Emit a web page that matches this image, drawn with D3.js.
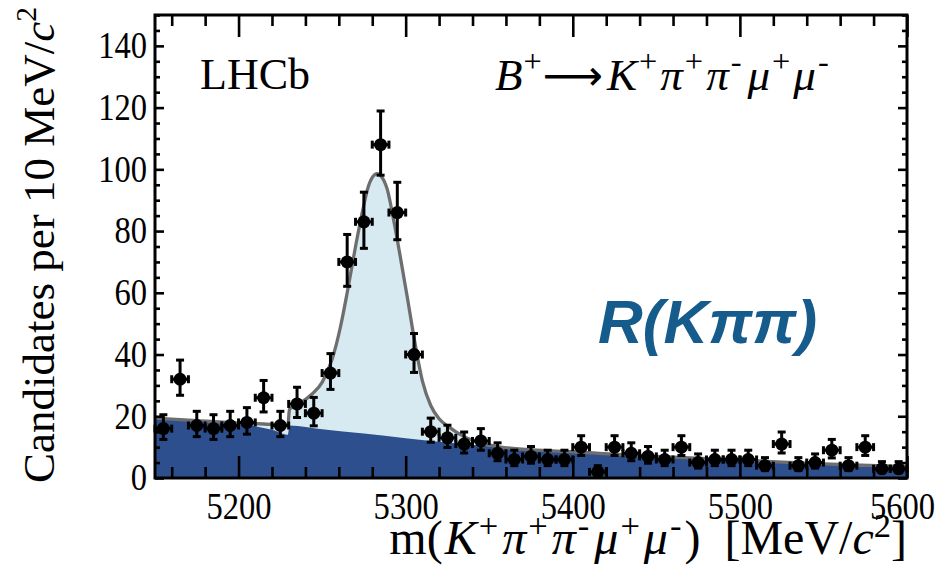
<!DOCTYPE html>
<html>
<head>
<meta charset="utf-8">
<script src="https://cdn.jsdelivr.net/npm/d3@7"></script>
<style>
  body { margin: 0; background: #fff; }
  svg { display: block; }
</style>
</head>
<body>
<svg id="chart" width="946" height="568"></svg>
<script>
// Binned candidates, 10 MeV/c^2 bins (bin centres in MeV/c^2)
const binCenters = [5155, 5165, 5175, 5185, 5195, 5205, 5215, 5225, 5235, 5245,
                    5255, 5265, 5275, 5285, 5295, 5305, 5315, 5325, 5335, 5345,
                    5355, 5365, 5375, 5385, 5395, 5405, 5415, 5425, 5435, 5445,
                    5455, 5465, 5475, 5485, 5495, 5505, 5515, 5525, 5535, 5545,
                    5555, 5565, 5575, 5585, 5595];
const counts = [16, 32, 17, 16, 17, 18, 26, 17, 24, 21,
                34, 70, 83, 108, 86, 40, 15, 13, 11, 12,
                8, 6, 7, 6, 6, 10, 2, 10, 8, 7,
                6, 10, 5, 6, 6, 6, 4, 11, 4, 5,
                9, 4, 10, 3, 3];
// Asymmetric (Poisson) uncertainties
const errLow = [3.5, 5.2, 3.6, 3.5, 3.6, 3.8, 4.6, 3.6, 4.4, 4.1,
                5.3, 7.9, 8.6, 9.9, 8.8, 5.8, 3.4, 3.1, 2.9, 3.0,
                2.4, 2.0, 2.2, 2.0, 2.0, 2.7, 1.0, 2.7, 2.4, 2.2,
                2.0, 2.7, 1.8, 2.0, 2.0, 2.0, 1.6, 2.9, 1.6, 1.8,
                2.5, 1.6, 2.7, 1.3, 1.3];
const errHigh = [4.5, 6.2, 4.6, 4.5, 4.6, 4.8, 5.6, 4.6, 5.4, 5.1,
                 6.3, 8.9, 9.6, 10.9, 9.8, 6.8, 4.4, 4.1, 3.9, 4.0,
                 3.4, 3.0, 3.2, 3.0, 3.0, 3.7, 2.0, 3.7, 3.4, 3.2,
                 3.0, 3.7, 2.8, 3.0, 3.0, 3.0, 2.6, 3.9, 2.6, 2.8,
                 3.5, 2.6, 3.7, 2.3, 2.3];

// Total fit model (signal + background), sampled along the mass axis
const fitMass  = [5150, 5175, 5200, 5215, 5229.5, 5230.5, 5237, 5244, 5250, 5256,
                  5261, 5265, 5270, 5274, 5278, 5281.5, 5283, 5285, 5289, 5293,
                  5297, 5301, 5305, 5310, 5315, 5320, 5326, 5335, 5345, 5356,
                  5376, 5400, 5416, 5450, 5500, 5550, 5600];
const fitTotal = [19.4, 18.6, 17.8, 17.5, 17.2, 22.3, 24.3, 27.2, 31, 38.5,
                  49, 60, 75, 86, 95, 98.3, 98.6, 98, 93.5, 83,
                  71, 58.5, 45.5, 31.5, 23.5, 19.2, 16.5, 13.4, 11.4, 10.1,
                  9.1, 8.5, 8.0, 7.0, 5.8, 4.6, 3.7];

// Background component of the fit
const bkgMass  = [5150, 5175, 5195, 5210, 5220, 5229.5, 5230.5, 5250, 5275, 5300,
                  5336, 5376, 5416, 5460, 5500, 5550, 5600];
const bkgLevel = [19.4, 18.5, 17.7, 16.8, 15.6, 14.0, 17.0, 15.8, 14.4, 12.9,
                  10.9, 9.1, 7.7, 6.5, 5.4, 4.3, 3.1];

const xMajorTicks = [5200, 5300, 5400, 5500, 5600];
const yMajorTicks = [0, 20, 40, 60, 80, 100, 120, 140];

const W = 946, H = 568;
const frame = { left: 155, right: 907, top: 15, bottom: 478 };
const SERIF = "'Liberation Serif', 'Times New Roman', serif";
const SANS = "'Liberation Sans', Arial, sans-serif";

const x = d3.scaleLinear().domain([5150, 5600]).range([frame.left, frame.right]);
const y = d3.scaleLinear().domain([0, 150]).range([frame.bottom, frame.top]);

const svg = d3.select('#chart');

svg.append('defs').append('clipPath').attr('id', 'plotClip')
  .append('rect')
  .attr('x', frame.left).attr('y', frame.top)
  .attr('width', frame.right - frame.left).attr('height', frame.bottom - frame.top);

const plot = svg.append('g').attr('clip-path', 'url(#plotClip)');

// Fit components
const fitPts = fitMass.map((m, i) => [m, fitTotal[i]]);
const bkgPts = bkgMass.map((m, i) => [m, bkgLevel[i]]);

plot.append('path')
  .datum(fitPts)
  .attr('fill', '#d7e9f1')
  .attr('d', d3.area().curve(d3.curveMonotoneX)
    .x(d => x(d[0])).y0(y(0)).y1(d => y(d[1])));

plot.append('path')
  .datum(bkgPts)
  .attr('fill', '#2d4f8e')
  .attr('d', d3.area().curve(d3.curveMonotoneX)
    .x(d => x(d[0])).y0(y(0)).y1(d => y(d[1])));

plot.append('path')
  .datum(fitPts)
  .attr('fill', 'none')
  .attr('stroke', '#6e6e6e')
  .attr('stroke-width', 3.3)
  .attr('stroke-linejoin', 'round')
  .attr('d', d3.line().curve(d3.curveMonotoneX)
    .x(d => x(d[0])).y(d => y(d[1])));

// Axes: ticks drawn inside the frame on all four sides
const axes = svg.append('g');
const xMinor = d3.range(5160, 5601, 20).filter(v => v % 100 !== 0);
const yMinor = d3.range(0, 151, 5).filter(v => v % 20 !== 0);

function tickAxis(axisFn, scale, values, size, tx, ty) {
  const g = axes.append('g')
    .attr('transform', `translate(${tx},${ty})`)
    .call(axisFn(scale).tickValues(values).tickSize(-size).tickFormat(''));
  g.select('.domain').remove();
  g.selectAll('line').attr('stroke', '#000').attr('stroke-width', 2.6);
  return g;
}

tickAxis(d3.axisBottom, x, xMinor, 11, 0, frame.bottom);
tickAxis(d3.axisBottom, x, xMajorTicks, 22, 0, frame.bottom);
tickAxis(d3.axisTop, x, xMinor, 11, 0, frame.top);
tickAxis(d3.axisTop, x, xMajorTicks, 22, 0, frame.top);
tickAxis(d3.axisLeft, y, yMinor, 5, frame.left, 0);
tickAxis(d3.axisLeft, y, yMajorTicks, 9, frame.left, 0);
tickAxis(d3.axisRight, y, yMinor, 5, frame.right, 0);
tickAxis(d3.axisRight, y, yMajorTicks, 9, frame.right, 0);

// Tick labels (tall, slightly condensed serif digits)
const LABEL_SIZE = 37, LABEL_SQUEEZE = 0.88;

const xLab = axes.append('g')
  .attr('transform', `translate(0,${frame.bottom})`)
  .call(d3.axisBottom(x).tickValues(xMajorTicks).tickSize(0).tickPadding(15)
    .tickFormat(d3.format('d')));
xLab.select('.domain').remove();
xLab.selectAll('text')
  .attr('font-family', SERIF).attr('font-size', LABEL_SIZE).attr('fill', '#000')
  .attr('transform', `scale(${LABEL_SQUEEZE},1)`);
// keep the right-most label inside the canvas
xLab.selectAll('text').each(function () {
  const bb = this.getBBox();
  const tr = this.parentNode.transform.baseVal.consolidate().matrix.e;
  const over = tr + (bb.x + bb.width) * LABEL_SQUEEZE - (W - 11);
  if (over > 0) d3.select(this).attr('x', -over / LABEL_SQUEEZE);
});

const yLab = axes.append('g')
  .attr('transform', `translate(${frame.left - 8},0)`)
  .call(d3.axisLeft(y).tickValues(yMajorTicks).tickSize(0).tickPadding(0)
    .tickFormat(d3.format('d')));
yLab.select('.domain').remove();
yLab.selectAll('text')
  .attr('font-family', SERIF).attr('font-size', LABEL_SIZE).attr('fill', '#000')
  .attr('transform', `scale(${LABEL_SQUEEZE},1)`);

// Data points with error bars
const pts = svg.append('g').attr('stroke', '#000').attr('stroke-width', 3);
binCenters.forEach((c, i) => {
  const v = counts[i];
  const cx = x(c), cy = y(v);
  const xl = x(c - 5), xr = x(c + 5);
  const yt = y(v + errHigh[i]), yb = y(Math.max(0, v - errLow[i]));
  const g = pts.append('g');
  g.append('line').attr('x1', xl).attr('x2', xr).attr('y1', cy).attr('y2', cy);
  g.append('line').attr('x1', cx).attr('x2', cx).attr('y1', yt).attr('y2', yb);
  g.append('line').attr('x1', cx - 4).attr('x2', cx + 4).attr('y1', yt).attr('y2', yt);
  g.append('line').attr('x1', cx - 4).attr('x2', cx + 4).attr('y1', yb).attr('y2', yb);
  g.append('line').attr('x1', xl).attr('x2', xl).attr('y1', cy - 4).attr('y2', cy + 4);
  g.append('line').attr('x1', xr).attr('x2', xr).attr('y1', cy - 4).attr('y2', cy + 4);
  g.append('circle').attr('cx', cx).attr('cy', cy).attr('r', 6.5)
    .attr('fill', '#000').attr('stroke', 'none');
});

// Frame
svg.append('rect')
  .attr('x', frame.left).attr('y', frame.top)
  .attr('width', frame.right - frame.left).attr('height', frame.bottom - frame.top)
  .attr('fill', 'none').attr('stroke', '#000').attr('stroke-width', 3);

// Text with italic pieces and superscripts
function rich(textSel, parts, size, supScale, supRise) {
  let shift = 0;
  parts.forEach(p => {
    const ts = textSel.append('tspan').text(p.t);
    const target = p.sup ? -size * supRise : 0;
    ts.attr('font-size', p.sup ? size * supScale : (p.size || size));
    ts.attr('font-style', p.it ? 'italic' : 'normal');
    if (p.family) ts.attr('font-family', p.family);
    if (p.dx) ts.attr('dx', p.dx);
    if (target !== shift) { ts.attr('dy', target - shift); shift = target; }
  });
}

svg.append('text')
  .attr('x', 200).attr('y', 89)
  .attr('font-family', SERIF).attr('font-size', 44)
  .text('LHCb');

const decay = svg.append('text')
  .attr('x', 495).attr('y', 90)
  .attr('font-family', SERIF);
rich(decay, [
  { t: 'B', it: true }, { t: '+', sup: true, dx: 1 },
  { t: '\u27F6', family: "'DejaVu Sans', sans-serif", size: 42, dx: 1 },
  { t: 'K', it: true, dx: 4 }, { t: '+', sup: true, dx: 2 },
  { t: '\u03C0', it: true, dx: 3 }, { t: '+', sup: true, dx: 2 },
  { t: '\u03C0', it: true, dx: 3 }, { t: '-', sup: true, dx: 2 },
  { t: '\u03BC', it: true, dx: 6 }, { t: '+', sup: true, dx: 2 },
  { t: '\u03BC', it: true, dx: 3 }, { t: '-', sup: true, dx: 2 }
], 45, 0.72, 0.4);

svg.append('text')
  .attr('x', 598).attr('y', 343)
  .attr('font-family', SANS).attr('font-size', 62)
  .attr('font-weight', 'bold').attr('font-style', 'italic')
  .attr('fill', '#155b8c')
  .text('R(K\u03C0\u03C0)');

const yTitle = svg.append('text')
  .attr('transform', 'translate(54,245) rotate(-90)')
  .attr('text-anchor', 'middle')
  .attr('font-family', SERIF);
rich(yTitle, [
  { t: 'Candidates per 10 MeV/' }, { t: 'c', it: true }, { t: '2', sup: true }
], 45, 0.66, 0.4);

const xTitle = svg.append('text')
  .attr('x', frame.right).attr('y', 554)
  .attr('text-anchor', 'end')
  .attr('font-family', SERIF);
rich(xTitle, [
  { t: 'm(' },
  { t: 'K', it: true, dx: 2 }, { t: '+', sup: true, dx: 2 },
  { t: '\u03C0', it: true, dx: 4 }, { t: '+', sup: true, dx: 2 },
  { t: '\u03C0', it: true, dx: 4 }, { t: '-', sup: true, dx: 2 },
  { t: '\u03BC', it: true, dx: 5 }, { t: '+', sup: true, dx: 2 },
  { t: '\u03BC', it: true, dx: 4 }, { t: '-', sup: true, dx: 2 },
  { t: ')\u00A0\u00A0[MeV/', dx: 3 }, { t: 'c', it: true }, { t: '2', sup: true }, { t: ']' }
], 48, 0.72, 0.36);
</script>
</body>
</html>
